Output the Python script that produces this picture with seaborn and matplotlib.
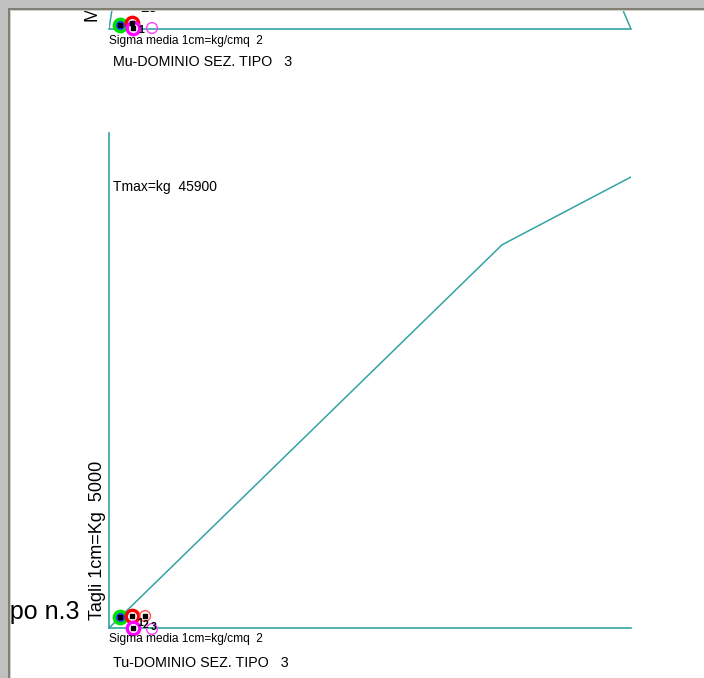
import matplotlib
matplotlib.use("Agg")
import matplotlib.pyplot as plt
import seaborn as sns
import pandas as pd
from matplotlib.patches import Rectangle

# --- data -------------------------------------------------------------
# Tu domain (shear) : mean stress [kg/cmq] vs shear [kg]
tu_sigma = [0.0, 16.0, 21.25]
tu_shear = [0.0, 39000.0, 45900.0]
tmax_kg = 45900

# Mu domain (moment) : mean stress [kg/cmq] vs moment [kgm]
mu_sigma = [0.0, 0.12, 0.6, 4.0, 10.6, 17.0, 19.9, 20.92, 21.25]
mu_moment = [0.0, 1930.0, 8000.0, 20000.0, 26000.0, 20000.0, 8000.0, 1930.0, 0.0]

# load points (x in kg/cmq, y in panel units)
tu_pts_sigma = [0.45, 0.94, 1.47, 0.98, 1.75]
tu_pts_val = [1120.0, 1220.0, 1220.0, 0.0, -100.0]
mu_pts_sigma = [0.45, 0.94, 0.98, 1.75]
mu_pts_val = [410.0, 610.0, 100.0, 100.0]

sigma_scale = 2      # kg/cmq per cm
shear_scale = 5000   # kg per cm
sez_tipo = 3

W, H = 704, 678
TEAL = "#33a3a3"

sns.set_style("white")
plt.rcParams["font.family"] = ["Liberation Sans", "DejaVu Sans"]
plt.rcParams["text.color"] = "black"

fig = plt.figure(figsize=(W / 100, H / 100), dpi=100)
fig.patch.set_facecolor("white")


def fx(x):
    return x / W


def fy(y):
    return 1 - y / H


PX_PER_CM = 451 / (tmax_kg / shear_scale)
x_max = 522 / PX_PER_CM * sigma_scale


def style_axes(ax):
    ax.set_facecolor("none")
    for s in ("top", "right"):
        ax.spines[s].set_visible(False)
    for s in ("left", "bottom"):
        ax.spines[s].set_color(TEAL)
        ax.spines[s].set_linewidth(1.2)
    ax.set_xticks([])
    ax.set_yticks([])
    ax.set_xlabel("")
    ax.set_ylabel("")


def draw_points(ax, xs, ys, styles):
    for x, y, (ec, fc, lw, size, dot) in zip(xs, ys, styles):
        ax.scatter([x], [y], s=size, facecolors=fc, edgecolors=ec,
                   linewidths=lw, clip_on=False, zorder=5)
        if dot:
            ax.scatter([x], [y], s=8, marker="s", color="black",
                       clip_on=False, zorder=6)


# --- Tu panel ---------------------------------------------------------
ax_t = fig.add_axes([fx(109), fy(628), fx(522), (628 - 133) / H])
tu_df = pd.DataFrame({"sigma": tu_sigma, "T": tu_shear})
sns.lineplot(data=tu_df, x="sigma", y="T", ax=ax_t, color=TEAL,
             linewidth=1.1, sort=False, estimator=None)
ax_t.set_xlim(0, x_max)
ax_t.set_ylim(0, 495 / PX_PER_CM * shear_scale)
style_axes(ax_t)

tu_styles = [
    ("#00e000", "#2040ff", 2.4, 80, True),
    ("#ff0000", "#ffffff", 2.4, 80, True),
    ("#ff5050", "none", 1.0, 60, True),
    ("#ff00ff", "#ffffff", 2.4, 80, True),
    ("#ff40ff", "none", 1.0, 60, False),
]
draw_points(ax_t, tu_pts_sigma, tu_pts_val, tu_styles)

# --- Mu panel (mostly above the visible area) -------------------------
ax_m = fig.add_axes([fx(109), fy(29), fx(522), 330 / H])
mu_df = pd.DataFrame({"sigma": mu_sigma, "M": mu_moment})
sns.lineplot(data=mu_df, x="sigma", y="M", ax=ax_m, color=TEAL,
             linewidth=1.1, sort=False, estimator=None)
ax_m.set_xlim(0, x_max)
ax_m.set_ylim(0, 330 / PX_PER_CM * shear_scale)
style_axes(ax_m)
ax_m.spines["left"].set_visible(False)

mu_styles = [
    ("#00e000", "#2040ff", 2.4, 80, True),
    ("#ff0000", "#ffffff", 2.4, 80, True),
    ("#ff00ff", "#ffffff", 2.4, 80, True),
    ("#ff40ff", "none", 1.0, 60, False),
]
draw_points(ax_m, mu_pts_sigma, mu_pts_val, mu_styles)

# --- texts -------------------------------------------------------------
fig.text(fx(109), fy(44), f"Sigma media 1cm=kg/cmq  {sigma_scale}",
         fontsize=8.6, va="baseline")
fig.text(fx(113), fy(66), f"Mu-DOMINIO SEZ. TIPO   {sez_tipo}",
         fontsize=10.3, va="baseline")
fig.text(fx(109), fy(642), f"Sigma media 1cm=kg/cmq  {sigma_scale}",
         fontsize=8.6, va="baseline")
fig.text(fx(113), fy(667), f"Tu-DOMINIO SEZ. TIPO   {sez_tipo}",
         fontsize=10.3, va="baseline")
fig.text(fx(113), fy(191), f"Tmax=kg  {tmax_kg}",
         fontsize=10, va="baseline")
fig.text(fx(97), fy(540), f"Tagli 1cm=Kg  {shear_scale}", rotation=90,
         fontsize=13, ha="center", va="center")
fig.text(fx(93), fy(22), f"Momenti 1cm=Kgm  {shear_scale}", rotation=90,
         fontsize=13, ha="center", va="bottom")
fig.text(fx(79), fy(619), "Tipo n.3", fontsize=18, ha="right",
         va="baseline")

# point labels
for x, y, s in [(137, 626, "1"), (143, 628, "2"), (151, 630, "3")]:
    fig.text(fx(x), fy(y), s, fontsize=7.5, va="baseline", weight="bold")
fig.text(fx(138), fy(33), "1", fontsize=7.5, va="baseline", weight="bold")
fig.text(fx(140), fy(12), "28", fontsize=11, va="baseline")

# --- window frame -------------------------------------------------------
frame = [
    (0, 0, W, 8, "#c0c0c0"),
    (0, 0, 8, H, "#c0c0c0"),
    (8, 8, W - 8, 2, "#7f7f73"),
    (8, 8, 2, H - 8, "#7f7f73"),
    (10, 10, W - 10, 1, "#d4d0c8"),
    (10, 10, 1, H - 10, "#d4d0c8"),
]
for x, y, w, h, c in frame:
    fig.add_artist(Rectangle((fx(x), fy(y + h)), w / W, h / H,
                             transform=fig.transFigure, facecolor=c,
                             edgecolor="none", zorder=20))

fig.savefig("out.png", dpi=100)
